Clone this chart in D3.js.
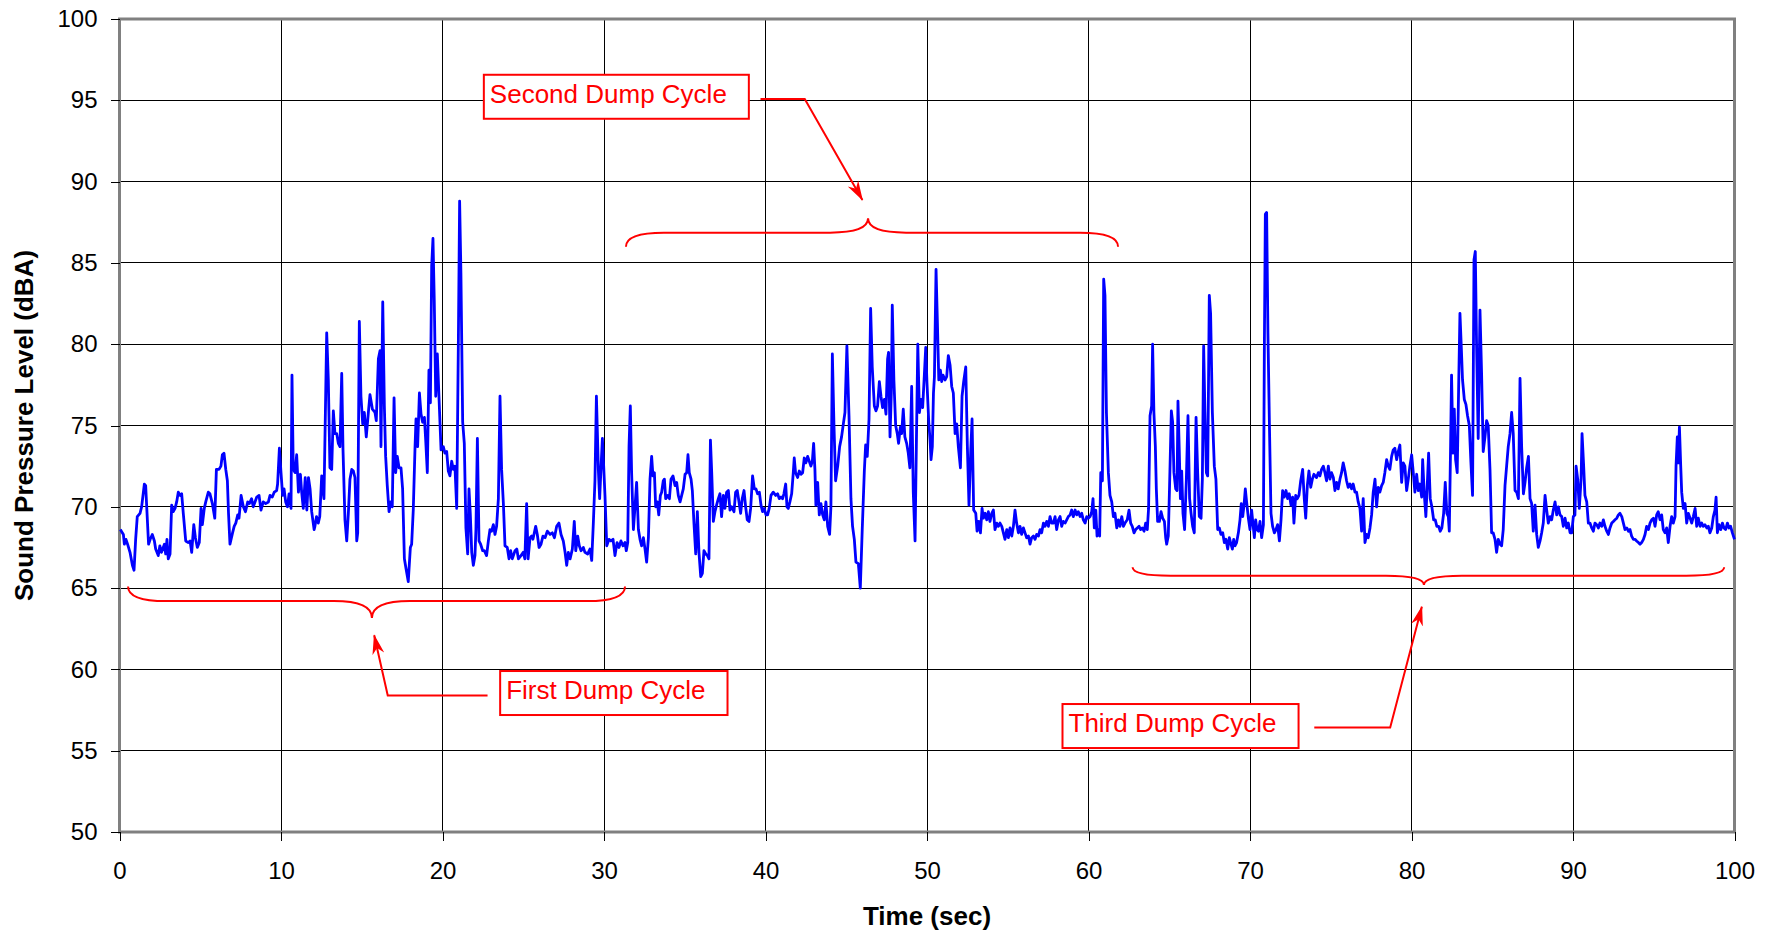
<!DOCTYPE html>
<html>
<head>
<meta charset="utf-8">
<script src="https://cdn.jsdelivr.net/npm/d3@7"></script>
<style>
  body { margin: 0; background: #fff; }
  svg { display: block; font-family: "Liberation Sans", Arial, sans-serif; }
</style>
</head>
<body>
<div id="chart"></div>
<script>
// sound level readings, [time (sec), level (dBA)]
var readings = [
  [0.05,68.6],[0.24,68.3],[0.30,67.7],[0.40,68.0],[0.50,67.7],[0.65,67.2],[0.80,66.4],[0.90,66.1],[1.00,68.0],[1.10,69.4],
  [1.27,69.6],[1.37,70.0],[1.54,71.4],[1.62,71.3],[1.80,67.7],[1.90,68.0],[2.03,68.3],[2.16,67.9],[2.24,67.4],[2.40,67.0],
  [2.50,67.6],[2.60,67.2],[2.78,67.7],[2.86,67.1],[2.94,68.0],[3.02,66.8],[3.13,67.1],[3.23,70.1],[3.33,69.7],[3.44,69.9],
  [3.54,70.3],[3.64,70.9],[3.75,70.7],[3.85,70.8],[3.95,69.6],[4.10,67.9],[4.26,67.8],[4.37,67.9],[4.47,67.2],[4.60,68.9],
  [4.70,68.1],[4.82,67.5],[4.94,67.8],[5.05,69.9],[5.13,68.9],[5.25,69.9],[5.34,70.3],[5.50,70.9],[5.60,70.8],[5.75,70.2],
  [5.90,69.3],[6.00,72.3],[6.16,72.3],[6.28,72.5],[6.37,73.2],[6.47,73.3],[6.58,72.3],[6.68,71.6],[6.75,69.6],[6.84,67.7],
  [7.00,68.4],[7.10,68.8],[7.20,69.0],[7.32,69.5],[7.40,69.3],[7.53,70.7],[7.67,70.0],[7.80,69.7],[7.94,70.3],[8.04,70.2],
  [8.18,70.5],[8.28,70.0],[8.39,70.3],[8.50,70.6],[8.64,70.7],[8.76,69.8],[8.90,70.3],[9.05,70.2],[9.22,70.3],[9.32,70.7],
  [9.46,70.6],[9.58,70.9],[9.73,71.0],[9.79,71.4],[9.90,73.6],[10.00,72.1],[10.10,70.7],[10.19,71.1],[10.29,70.3],[10.40,70.0],
  [10.50,70.8],[10.62,69.9],[10.68,78.1],[10.76,72.3],[10.87,72.1],[10.97,73.2],[11.08,70.9],[11.20,72.0],[11.28,70.9],[11.38,69.9],
  [11.50,71.8],[11.60,69.8],[11.70,71.8],[11.80,71.1],[11.90,69.7],[12.05,68.6],
  [12.10,68.8],[12.20,69.4],[12.31,69.0],[12.40,69.4],[12.52,71.9],[12.66,70.5],[12.83,80.7],[12.93,77.8],[13.03,72.4],[13.14,72.3],
  [13.24,75.9],[13.34,74.5],[13.45,74.5],[13.55,73.9],[13.65,73.7],[13.76,78.2],[13.84,73.5],[13.96,69.2],[14.07,67.9],[14.17,69.6],
  [14.27,71.7],[14.38,72.3],[14.48,72.2],[14.58,71.8],[14.69,67.9],[14.75,68.4],[14.85,81.4],[14.95,76.8],[15.06,75.1],[15.16,75.8],
  [15.28,74.3],[15.41,75.8],[15.51,76.9],[15.66,76.0],[15.82,75.8],[15.90,75.3],[16.03,79.1],[16.13,79.6],[16.19,73.7],[16.30,82.6],
  [16.40,76.2],[16.48,73.1],[16.58,71.3],[16.69,69.7],[16.79,70.3],[16.89,70.0],[17.00,76.7],[17.10,72.1],[17.20,73.1],[17.31,72.4],
  [17.43,72.4],[17.53,71.1],[17.64,66.8],[17.74,66.2],[17.88,65.4],[18.01,67.5],[18.09,67.7],[18.19,69.8],[18.30,73.7],[18.36,75.4],
  [18.46,73.7],[18.57,77.0],[18.67,75.7],[18.77,75.2],[18.88,75.5],[18.96,74.1],[19.06,72.1],[19.16,78.4],[19.25,76.4],[19.33,84.8],
  [19.41,86.5],[19.49,82.7],[19.58,76.8],[19.68,79.4],[19.78,76.8],[19.91,73.5],[20.05,73.7],[20.15,73.3],[20.26,73.4],[20.36,72.2],
  [20.46,71.9],[20.57,72.8],[20.67,72.3],[20.77,72.5],[20.88,69.9],[20.98,79.9],[21.06,88.8],[21.14,84.4],[21.25,75.2],[21.35,73.9],
  [21.45,68.7],[21.56,67.1],[21.64,71.1],[21.72,69.6],[21.81,67.2],[21.91,66.4],[22.01,67.0],[22.07,68.6],[22.16,74.2],[22.26,67.9],
  [22.36,67.7],[22.49,67.3],[22.59,67.3],[22.73,67.0],[22.84,67.9],[22.94,68.6],[23.04,68.5],[23.15,68.9],[23.25,68.3],[23.35,68.8],
  [23.46,70.5],[23.56,76.8],[23.66,72.3],[23.77,70.2],[23.87,67.6],[24.01,67.5],[24.12,66.8],[24.22,67.3],[24.32,66.8],
  [24.49,67.3],[24.60,67.4],[24.70,66.8],[24.86,67.0],[25.00,67.2],[25.10,66.8],[25.21,70.2],[25.30,66.8],[25.42,68.1],[25.52,68.2],
  [25.60,68.0],[25.77,68.8],[25.87,68.3],[25.98,67.5],[26.10,67.7],[26.22,68.2],[26.35,68.1],[26.49,68.5],[26.66,68.3],[26.80,68.4],
  [26.93,68.1],[27.07,68.8],[27.21,69.0],[27.34,68.3],[27.48,67.9],[27.59,67.2],[27.69,66.4],[27.79,67.2],[27.90,66.8],[28.04,67.4],
  [28.16,69.1],[28.25,67.3],[28.37,68.2],[28.47,67.6],[28.58,67.3],[28.72,67.5],[28.82,67.2],[28.99,67.1],[29.13,67.4],[29.24,66.7],
  [29.34,69.0],[29.44,71.6],[29.53,76.8],[29.65,72.3],[29.73,70.5],[29.82,72.5],[29.90,74.2],[29.98,72.5],[30.06,70.7],[30.17,67.6],
  [30.31,68.0],[30.43,67.9],[30.56,68.0],[30.68,67.0],[30.81,67.8],[30.93,67.5],[31.05,67.9],[31.18,67.6],[31.30,67.8],[31.38,67.3],
  [31.47,67.8],[31.55,73.7],[31.63,76.2],[31.71,72.1],[31.82,68.6],[31.92,70.0],[32.02,71.5],[32.13,68.6],[32.23,68.0],[32.33,67.6],
  [32.44,68.1],[32.54,67.4],[32.64,66.6],[32.75,68.1],[32.85,71.7],[32.95,73.1],[33.03,71.9],[33.12,72.1],[33.20,70.0],[33.30,70.3],
  [33.39,69.5],[33.49,70.7],[33.57,70.9],[33.67,71.6],[33.74,71.7],[33.82,70.5],[33.94,70.7],[34.05,70.5],[34.15,71.7],[34.27,71.9],
  [34.40,71.3],[34.50,71.5],[34.60,70.7],[34.71,70.3],[34.81,70.7],[34.91,71.1],[35.02,72.0],[35.12,72.1],[35.20,73.2],[35.28,72.1],
  [35.39,71.7],[35.47,71.0],[35.57,69.0],[35.68,67.1],[35.78,69.7],[35.88,67.2],[35.99,65.7],[36.09,65.9],[36.19,67.3],[36.30,67.1],
  [36.40,67.0],[36.50,66.8],[36.59,74.1],[36.67,72.1],[36.77,69.1],
  [36.87,69.7],[36.97,70.1],[37.08,70.5],[37.18,70.8],[37.28,69.4],[37.39,70.7],[37.49,69.9],[37.59,70.9],[37.70,71.0],[37.80,69.8],
  [37.90,70.0],[38.05,69.7],[38.15,70.9],[38.25,71.0],[38.36,70.3],[38.46,69.6],[38.56,70.5],[38.67,71.0],[38.77,70.0],[38.87,69.2],
  [38.98,69.1],[39.08,69.9],[39.20,71.9],[39.31,71.1],[39.41,71.1],[39.51,70.8],[39.62,70.9],[39.72,70.1],[39.82,69.7],[39.92,69.9],
  [40.03,69.5],[40.13,69.5],[40.23,69.9],[40.34,70.7],[40.48,70.9],[40.63,70.7],[40.75,70.8],[40.85,70.5],[40.96,70.6],[41.06,70.5],
  [41.14,70.8],[41.25,71.4],[41.33,70.0],[41.41,69.9],[41.51,70.3],[41.62,70.8],[41.72,72.1],[41.78,73.0],[41.86,72.1],[41.99,71.8],
  [42.09,72.2],[42.20,72.0],[42.30,72.1],[42.40,73.0],[42.50,72.7],[42.61,73.1],[42.71,72.8],[42.81,72.5],[42.90,72.8],[42.98,73.9],
  [43.06,72.3],[43.12,70.1],[43.23,71.5],[43.33,69.5],[43.43,70.2],[43.54,69.5],[43.64,69.2],[43.74,70.3],[43.85,68.8],[43.97,68.3],
  [44.05,70.0],[44.14,79.4],[44.24,75.0],[44.34,71.6],[44.47,72.5],[44.59,73.7],[44.71,74.3],[44.82,75.1],[44.92,75.8],[45.04,79.9],
  [45.17,75.6],[45.29,70.5],[45.39,68.8],[45.50,68.0],[45.60,66.6],[45.75,66.5],[45.87,65.0],[45.99,68.6],[46.12,72.2],[46.20,73.8],
  [46.30,73.1],[46.41,75.4],[46.51,82.2],[46.61,78.6],[46.74,76.2],[46.84,75.9],[46.94,76.2],[47.05,77.7],[47.15,76.8],[47.25,76.1],
  [47.36,76.6],[47.46,75.7],[47.56,79.1],[47.62,79.5],[47.71,74.3],[47.79,77.0],[47.85,82.4],[47.95,77.8],[48.06,75.0],[48.16,74.5],
  [48.24,73.9],[48.35,74.9],[48.43,74.5],[48.53,76.0],[48.63,74.3],[48.74,73.9],[48.84,73.3],[48.94,72.4],[49.05,77.4],[49.15,70.9],
  [49.26,67.9],[49.34,73.7],[49.43,80.0],[49.53,75.8],[49.63,76.6],[49.73,76.1],[49.84,78.2],[49.92,79.8],[50.00,77.6],[50.11,75.2],
  [50.19,74.1],[50.25,72.9],[50.33,73.7],[50.40,77.0],[50.46,78.0],[50.56,84.6],[50.64,81.5],[50.73,77.8],[50.83,78.4],[50.91,77.7],
  [50.99,78.1],[51.12,77.8],[51.22,78.0],[51.32,79.3],[51.43,78.7],[51.53,77.4],[51.63,77.0],[51.74,74.5],[51.84,75.1],[51.94,73.7],
  [52.07,72.4],[52.17,76.8],[52.27,77.7],[52.40,78.6],[52.50,73.7],[52.60,70.1],[52.71,73.5],[52.79,75.4],[52.89,69.8],[53.02,69.6],
  [53.10,68.5],[53.20,69.1],[53.31,68.4],[53.41,69.9],[53.49,69.3],[53.60,69.6],[53.70,69.2],[53.80,69.7],[53.90,69.1],[54.01,69.6],
  [54.11,69.8],[54.21,68.6],[54.32,69.0],[54.42,68.8],[54.52,69.0],[54.63,68.8],[54.73,68.4],[54.83,68.0],[54.94,68.6],[55.04,68.1],
  [55.14,68.7],[55.25,68.2],[55.35,68.8],[55.45,69.8],[55.55,69.0],[55.66,68.4],[55.76,68.8],[55.86,68.3],[55.97,68.7],[56.07,68.4],
  [56.17,68.1],[56.28,68.2],[56.38,67.7],[56.48,68.1],[56.59,68.2],[56.69,68.0],[56.79,68.3],[56.90,68.2],[57.00,68.6],[57.10,68.4],
  [57.21,69.0],[57.31,68.8],[57.41,69.1],[57.52,68.8],[57.62,69.4],[57.72,69.0],[57.83,69.0],[57.93,69.4],[58.03,68.6],[58.14,69.2],
  [58.24,69.4],[58.34,68.8],[58.44,69.1],[58.55,69.0],[58.65,69.2],[58.75,69.4],[58.86,69.5],[58.96,69.8],[59.06,69.4],[59.17,69.8],
  [59.27,69.5],[59.37,69.7],[59.48,69.4],[59.58,69.6],[59.68,69.2],[59.79,69.0],[59.89,69.4],[59.99,69.3],[60.10,69.4],[60.20,69.7],
  [60.28,70.5],[60.36,68.7],[60.45,69.8],[60.53,68.2],[60.61,68.6],[60.69,68.2],[60.76,72.1],[60.86,71.6],[60.94,84.0],[61.02,83.0],
  [61.11,75.8],[61.23,72.1],[61.33,70.7],[61.44,70.3],[61.54,69.4],[61.64,69.6],[61.75,68.7],[61.85,69.2],[61.95,68.8],[62.06,69.4],
  [62.16,68.8],[62.26,69.0],[62.40,69.2],[62.51,69.8],[62.61,69.0],[62.71,68.8],[62.82,68.4],[62.92,68.6],[63.02,68.7],[63.13,68.8],
  [63.23,68.6],[63.33,68.7],[63.44,68.5],[63.54,69.0],[63.64,68.6],[63.72,69.9],[63.81,75.6],[63.91,76.2],[63.97,80.0],[64.05,75.8],
  [64.14,73.7],[64.20,71.1],[64.28,69.1],[64.39,69.1],[64.49,69.7],[64.59,69.3],[64.70,69.1],[64.78,68.1],[64.84,67.7],[64.94,68.2],
  [65.02,71.3],[65.13,75.9],[65.21,75.2],[65.29,72.1],[65.40,71.1],[65.48,71.0],[65.54,76.5],[65.62,73.5],[65.69,70.5],[65.77,72.2],
  [65.85,69.6],[65.95,68.6],[66.06,71.7],[66.16,75.6],[66.26,70.5],[66.35,69.6],[66.45,68.8],[66.55,68.4],[66.66,75.5],[66.76,72.1],
  [66.86,69.4],[66.97,69.3],[67.05,71.7],[67.13,79.9],[67.21,75.8],[67.30,72.1],[67.38,71.9],[67.48,83.0],[67.56,81.9],[67.67,75.8],
  [67.79,72.5],[67.89,71.7],[68.00,68.6],[68.10,68.7],[68.20,68.3],[68.31,68.4],[68.41,67.8],[68.51,68.0],[68.62,67.4],[68.72,68.1],
  [68.82,67.7],[68.91,67.4],[68.99,68.0],[69.07,67.6],[69.17,67.8],[69.28,68.4],[69.38,69.2],[69.46,70.2],[69.55,69.4],[69.63,70.1],
  [69.71,71.1],[69.79,70.3],[69.90,69.3],[70.00,68.6],[70.10,69.8],[70.18,69.0],[70.27,68.1],[70.35,69.2],[70.43,68.6],[70.52,68.5],
  [70.62,69.1],[70.72,68.1],[70.83,68.9],[70.89,79.9],[70.95,88.0],[71.03,88.1],[71.11,80.7],[71.20,75.2],[71.30,69.6],[71.40,68.8],
  [71.51,68.4],[71.61,68.6],[71.71,68.9],[71.82,67.9],[71.92,69.2],[72.02,71.0],[72.12,70.6],[72.23,71.0],[72.33,70.5],[72.43,70.8],
  [72.54,70.1],[72.64,70.6],[72.72,69.0],[72.83,70.7],[72.93,70.5],[73.03,70.7],[73.14,71.6],[73.26,72.3],[73.36,70.5],[73.45,69.3],
  [73.55,71.3],[73.65,72.2],[73.76,71.2],[73.86,71.7],[73.96,72.0],
  [74.12,71.8],[74.23,72.1],[74.33,71.9],[74.43,72.3],[74.54,72.5],[74.64,72.1],[74.74,71.6],[74.85,72.5],[74.95,71.7],[75.05,72.1],
  [75.16,71.8],[75.26,71.0],[75.36,71.5],[75.46,71.1],[75.57,71.7],[75.67,72.1],[75.77,72.7],[75.88,72.2],[75.98,71.6],[76.08,71.2],
  [76.19,71.4],[76.29,71.1],[76.39,71.4],[76.50,70.9],[76.60,70.9],[76.70,70.3],[76.81,69.9],[76.91,68.5],[77.01,70.5],[77.12,67.8],
  [77.22,68.3],[77.32,68.1],[77.43,68.7],[77.53,69.5],[77.63,70.9],[77.74,71.7],[77.84,70.0],[77.94,71.2],[78.04,70.9],[78.15,71.3],
  [78.25,71.5],[78.35,72.1],[78.46,72.9],[78.56,72.5],[78.66,72.3],[78.77,73.1],[78.87,73.5],[78.97,73.6],[79.08,72.9],[79.18,73.4],
  [79.28,73.8],[79.39,71.5],[79.49,72.7],[79.59,72.5],[79.70,71.0],[79.80,71.7],[79.90,72.5],[80.01,73.2],[80.11,72.1],[80.21,70.9],
  [80.32,72.0],[80.42,71.0],[80.52,71.4],[80.63,70.6],[80.69,72.9],[80.79,70.8],[80.89,69.4],[81.00,71.9],[81.06,73.3],[81.16,70.5],
  [81.26,70.0],[81.37,69.2],[81.47,69.2],[81.57,68.8],[81.68,68.8],[81.78,68.5],[81.88,68.7],[81.99,69.6],[82.09,71.5],[82.19,69.6],
  [82.28,69.4],[82.34,68.5],[82.42,73.7],[82.48,78.1],[82.57,73.3],[82.65,76.0],[82.73,72.9],[82.83,72.1],[82.92,77.4],[83.00,81.9],
  [83.08,79.9],[83.16,77.8],[83.27,76.6],[83.37,76.3],[83.47,75.6],[83.58,75.0],[83.68,72.7],[83.78,70.7],[83.87,85.2],[83.95,85.7],
  [84.03,79.9],[84.13,74.2],[84.24,82.1],[84.34,78.2],[84.44,73.4],[84.55,74.3],[84.65,75.3],[84.75,75.0],[84.86,72.3],[84.96,68.4],
  [85.06,68.4],[85.17,68.0],[85.27,67.2],[85.37,68.0],[85.48,67.7],[85.58,67.6],[85.68,68.6],[85.79,71.3],[85.89,72.5],[85.99,73.7],
  [86.10,74.5],[86.20,75.8],[86.30,74.5],[86.41,71.0],
  [86.51,70.9],[86.62,70.5],[86.72,77.9],[86.82,73.7],[86.93,70.8],[87.03,71.5],[87.13,72.4],[87.24,73.1],[87.34,70.5],[87.44,70.2],
  [87.54,68.5],[87.65,70.1],[87.75,68.3],[87.85,67.5],[87.96,67.9],[88.06,68.4],[88.16,69.0],[88.27,70.7],[88.37,69.8],[88.47,69.0],
  [88.58,69.4],[88.68,69.2],[88.78,69.8],[88.89,70.3],[88.99,69.5],[89.09,70.0],[89.20,69.5],[89.30,69.4],[89.40,68.8],[89.51,69.3],
  [89.61,68.7],[89.71,69.0],[89.82,68.4],[89.92,68.4],[90.02,69.4],[90.12,69.5],[90.19,72.5],[90.29,71.7],[90.39,69.9],[90.50,71.7],
  [90.56,74.5],[90.66,72.5],[90.74,70.7],[90.85,70.3],[90.95,69.0],[91.05,69.0],[91.16,68.7],[91.26,68.5],[91.36,69.0],[91.47,68.9],
  [91.57,68.7],[91.67,69.0],[91.78,68.8],[91.88,69.2],[91.98,68.8],[92.09,68.5],[92.19,68.3],[92.29,68.7],[92.40,69.0],[92.50,69.1],
  [92.60,69.2],[92.71,69.3],[92.81,69.5],[92.91,69.6],[93.02,69.4],[93.12,69.0],[93.22,68.6],[93.33,68.7],[93.43,68.5],[93.53,68.6],
  [93.63,68.2],[93.74,68.0],[93.84,68.0],[93.94,67.9],[94.05,67.8],[94.15,67.7],[94.25,67.8],[94.36,68.0],[94.46,68.3],[94.56,68.8],
  [94.67,68.6],[94.77,69.0],[94.87,69.2],[94.98,69.3],[95.08,68.8],[95.18,69.5],[95.28,69.7],[95.39,69.2],[95.49,69.5],[95.59,68.6],
  [95.70,68.4],[95.80,68.7],[95.90,67.8],[96.01,68.8],[96.11,69.4],[96.21,69.0],[96.32,69.4],[96.38,72.5],[96.46,74.3],[96.52,72.7],
  [96.59,74.9],[96.67,72.5],[96.73,70.9],[96.83,69.9],[96.94,70.2],[97.04,69.0],[97.14,69.6],[97.25,69.3],[97.35,69.0],[97.45,69.4],
  [97.56,69.9],[97.66,68.8],[97.76,69.3],[97.87,68.8],[97.97,69.0],[98.07,68.8],[98.17,68.9],[98.28,68.7],[98.38,68.8],[98.48,68.4],
  [98.59,68.7],[98.69,69.4],[98.79,69.8],[98.86,70.6],[98.94,68.4],[99.04,68.9],[99.15,68.6],[99.25,69.0],[99.35,68.7],[99.45,68.6],
  [99.56,69.0],[99.66,68.7],[99.76,68.8],[99.87,68.4],[100.00,68.0]
]

var xTicks = [0, 10, 20, 30, 40, 50, 60, 70, 80, 90, 100]
var yTicks = [50, 55, 60, 65, 70, 75, 80, 85, 90, 95, 100]

var cycleLabels = ["First Dump Cycle", "Second Dump Cycle", "Third Dump Cycle"]

// braces in data units: from/to = ends (sec), mid = point (sec), end/line/tip = levels (dBA)
var braces = [
  { from: 0.53, to: 31.3, mid: 15.63, end: 65.1, line: 64.2, tip: 63.16 },
  { from: 31.36, to: 61.83, mid: 46.35, end: 86.0, line: 86.86, tip: 87.74 },
  { from: 62.73, to: 99.36, mid: 80.77, end: 66.28, line: 65.76, tip: 65.19 }
]

// callout leader lines (sec, dBA), the last point is the arrow tip
var leaders = [
  [[22.79, 58.4], [16.61, 58.4], [15.77, 62.1]],
  [[39.69, 95.08], [42.43, 95.08], [46.0, 88.87]],
  [[73.98, 56.42], [78.68, 56.42], [80.64, 63.86]]
]

// top-left corner of each label box (sec, dBA)
var boxCorners = [[23.57, 59.9], [22.56, 96.57], [58.39, 57.87]]

var margin = { top: 19, right: 43.5, bottom: 102, left: 119.5 }
var width = 1778 - margin.left - margin.right,
    height = 934 - margin.top - margin.bottom

var root = d3.select("#chart").append("svg")
    .attr("width", 1778)
    .attr("height", 934)

root.append("rect").attr("width", 1778).attr("height", 934).attr("fill", "#fff")

var svg = root.append("g")
    .attr("transform", "translate(" + margin.left + "," + margin.top + ")")

var x = d3.scaleLinear().domain([0, 100]).range([0, width])
var y = d3.scaleLinear().domain([50, 100]).range([height, 0])

// gridlines
svg.append("g").selectAll("line.v")
    .data(xTicks)
    .enter().append("line")
    .attr("x1", d => x(d)).attr("x2", d => x(d))
    .attr("y1", 0).attr("y2", height)
    .attr("stroke", "#000").attr("stroke-width", 1)
    .attr("shape-rendering", "crispEdges")

svg.append("g").selectAll("line.h")
    .data(yTicks)
    .enter().append("line")
    .attr("x1", 0).attr("x2", width)
    .attr("y1", d => y(d)).attr("y2", d => y(d))
    .attr("stroke", "#000").attr("stroke-width", 1)
    .attr("shape-rendering", "crispEdges")

// plot area border
svg.append("rect")
    .attr("width", width).attr("height", height)
    .attr("fill", "none").attr("stroke", "#808080").attr("stroke-width", 3)

// axes
var yAxis = svg.append("g")
    .call(d3.axisLeft(y).tickValues(yTicks).tickSize(9).tickPadding(13))
var xAxis = svg.append("g")
    .attr("transform", "translate(0," + height + ")")
    .call(d3.axisBottom(x).tickValues(xTicks).tickSize(9).tickPadding(21))

;[xAxis, yAxis].forEach(function (a) {
  a.select(".domain").remove()
  a.selectAll(".tick line").attr("stroke", "#000").attr("shape-rendering", "crispEdges")
  a.selectAll(".tick text")
    .attr("fill", "#000")
    .style("font-size", "24px")
    .style("font-family", "'Liberation Sans', Arial, sans-serif")
})

// data line
var line = d3.line()
    .x(d => x(d[0]))
    .y(d => y(d[1]))

svg.append("path")
    .datum(readings)
    .attr("d", line)
    .attr("fill", "none")
    .attr("stroke", "#0000ff")
    .attr("stroke-width", 2.8)
    .attr("stroke-linejoin", "round")

// annotations
var red = "#ff0000"

root.append("defs").append("marker")
    .attr("id", "arrow")
    .attr("viewBox", "0 -7 20 14")
    .attr("refX", 19).attr("refY", 0)
    .attr("markerWidth", 20).attr("markerHeight", 14)
    .attr("markerUnits", "userSpaceOnUse")
    .attr("orient", "auto")
    .append("path")
    .attr("d", "M0,-6L20,0L0,6L6,0Z")
    .attr("fill", red)

function bracePath(b) {
  var x1 = x(b.from), x2 = x(b.to), xm = x(b.mid),
      ye = y(b.end), yl = y(b.line), yt = y(b.tip),
      r = 38
  return "M" + x1 + "," + ye +
    "Q" + x1 + "," + yl + " " + (x1 + r) + "," + yl +
    "L" + (xm - r) + "," + yl +
    "Q" + xm + "," + yl + " " + xm + "," + yt +
    "Q" + xm + "," + yl + " " + (xm + r) + "," + yl +
    "L" + (x2 - r) + "," + yl +
    "Q" + x2 + "," + yl + " " + x2 + "," + ye
}

svg.append("g").selectAll("path")
    .data(braces)
    .enter().append("path")
    .attr("d", bracePath)
    .attr("fill", "none")
    .attr("stroke", red)
    .attr("stroke-width", 2)

svg.append("g").selectAll("path")
    .data(leaders)
    .enter().append("path")
    .attr("d", d3.line().x(d => x(d[0])).y(d => y(d[1])))
    .attr("fill", "none")
    .attr("stroke", red)
    .attr("stroke-width", 2)
    .attr("marker-end", "url(#arrow)")

var labels = svg.append("g").selectAll("g")
    .data(cycleLabels)
    .enter().append("g")
    .attr("transform", (d, i) => "translate(" + x(boxCorners[i][0]) + "," + y(boxCorners[i][1]) + ")")

var box = labels.append("rect")
    .attr("height", 44)
    .attr("fill", "#fff")
    .attr("stroke", red)
    .attr("stroke-width", 2)

var txt = labels.append("text")
    .attr("x", 6).attr("y", 28)
    .attr("fill", red)
    .style("font-size", "26px")
    .text(d => d)

txt.each(function (d, i) {
  var w = this.getComputedTextLength()
  d3.select(box.nodes()[i]).attr("width", w + 28)
})

// axis titles
root.append("text")
    .attr("transform", "translate(33," + (margin.top + height / 2) + ") rotate(-90)")
    .attr("text-anchor", "middle")
    .style("font-size", "26px")
    .style("font-weight", "bold")
    .text("Sound Pressure Level (dBA)")

root.append("text")
    .attr("x", margin.left + width / 2)
    .attr("y", 924.5)
    .attr("text-anchor", "middle")
    .style("font-size", "26px")
    .style("font-weight", "bold")
    .text("Time (sec)")
</script>
</body>
</html>
